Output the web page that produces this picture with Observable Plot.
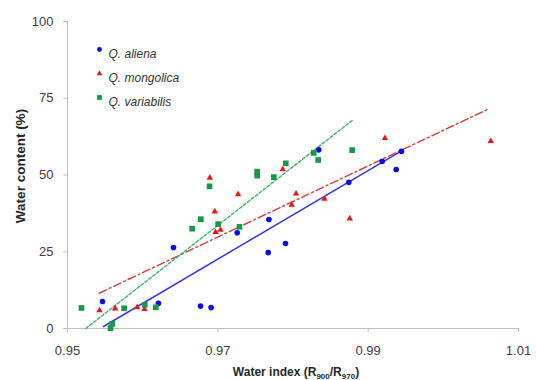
<!DOCTYPE html>
<html>
<head>
<meta charset="utf-8">
<script src="https://cdn.jsdelivr.net/npm/d3@7"></script>
<script src="https://cdn.jsdelivr.net/npm/@observablehq/plot@0.6"></script>
<style>
  html, body { margin: 0; padding: 0; background: #fff; }
  #chart { width: 537px; height: 380px; }
  g[aria-label="x-axis tick"], g[aria-label="y-axis tick"] { stroke: #bfbfbf; }
</style>
</head>
<body>
<div id="chart"></div>
<script>
// ---- Data ----
const alienaX = [0.95466, 0.9621, 0.9641, 0.9677, 0.9691, 0.97258, 0.9768, 0.9767, 0.9790, 0.98343, 0.98743, 0.99187, 0.99443, 0.99373];
const alienaY = [8.8, 8.2, 26.4, 7.3, 6.8, 31.2, 35.5, 24.7, 27.7, 58.2, 47.6, 54.5, 57.7, 51.8];

const mongolicaX = [0.95426, 0.95634, 0.95927, 0.96024, 0.96893, 0.9696, 0.9697, 0.97035, 0.9727, 0.97864, 0.98041, 0.97983, 0.98419, 0.98756, 0.99223, 1.00631];
const mongolicaY = [5.9, 6.5, 6.9, 6.3, 49.1, 38.1, 31.4, 32.1, 43.7, 51.8, 43.9, 40.3, 42.2, 35.8, 62.0, 61.0];

const variabilisX = [0.95186, 0.95572, 0.95594, 0.95754, 0.96028, 0.96175, 0.96658, 0.96774, 0.96889, 0.97005, 0.97288, 0.97523, 0.97523, 0.97745, 0.97904, 0.98277, 0.98335, 0.98787];
const variabilisY = [6.7, 0.1, 1.5, 6.6, 7.7, 6.9, 32.5, 35.6, 46.3, 34.0, 33.1, 51.1, 49.8, 49.3, 53.8, 57.2, 54.9, 58.1];

// fitted trend lines (end points)
const alienaFitX = [0.95479, 0.99439];
const alienaFitY = [0.65, 57.8];
const mongolicaFitX = [0.95422, 1.00600];
const mongolicaFitY = [11.5, 71.5];
const variabilisFitX = [0.95243, 0.98805];
const variabilisFitY = [0.0, 68.1];

const xTicks = [0.95, 0.97, 0.99, 1.01];
const yTicks = [0, 25, 50, 75, 100];

const species = ["Q. aliena", "Q. mongolica", "Q. variabilis"];
const colors = ["#0a0ae6", "#e81818", "#169a48"];
const symbols = ["circle", "triangle", "square"];

// ---- Build tables ----
const toRows = (xs, ys) => xs.map((x, i) => ({x, y: ys[i]}));
const alienaPts = toRows(alienaX, alienaY);
const mongolicaPts = toRows(mongolicaX, mongolicaY);
const variabilisPts = toRows(variabilisX, variabilisY);
const alienaFit = toRows(alienaFitX, alienaFitY);
const mongolicaFit = toRows(mongolicaFitX, mongolicaFitY);
const variabilisFit = toRows(variabilisFitX, variabilisFitY);

const font = "'Liberation Sans', Arial, sans-serif";

const legendMarks = species.flatMap((s, i) => [
  Plot.dot([s], {frameAnchor: "top-left", dx: 32, dy: 28 + i * 24, symbol: symbols[i], fill: colors[i], r: i === 0 ? 2.4 : (i === 1 ? 2.1 : 2.7)}),
  Plot.text([s], {frameAnchor: "top-left", dx: 41, dy: 28 + i * 24, text: d => d, textAnchor: "start", fill: "#333", fontSize: 12, fontStyle: "italic"})
]);

const chart = Plot.plot({
  width: 537,
  height: 380,
  marginLeft: 67,
  marginRight: 19,
  marginTop: 21,
  marginBottom: 52,
  style: {fontFamily: font, fontSize: "13px", color: "#404040", background: "#fff"},
  x: {domain: [0.95, 1.01]},
  y: {domain: [0, 100]},
  marks: [
    Plot.axisX({ticks: xTicks, tickFormat: d => d.toFixed(2), tickSize: 4, tickPadding: 13, label: null, fontSize: 13}),
    Plot.axisY({ticks: yTicks, tickFormat: d => String(d), tickSize: 4, tickPadding: 10, label: null, fontSize: 13}),
    Plot.ruleX([0.95], {stroke: "#bfbfbf"}),
    Plot.ruleY([0], {stroke: "#bfbfbf"}),
    Plot.line(alienaFit, {x: "x", y: "y", stroke: "#3535dc", strokeWidth: 1.5}),
    Plot.line(mongolicaFit, {x: "x", y: "y", stroke: "#d23c3c", strokeWidth: 1.4, strokeDasharray: "8,3,2,3"}),
    Plot.line(variabilisFit, {x: "x", y: "y", stroke: "#3cb46e", strokeWidth: 1.4, strokeDasharray: "3,2"}),
    Plot.dot(alienaPts, {x: "x", y: "y", symbol: "circle", fill: colors[0], r: 2.8}),
    Plot.dot(mongolicaPts, {x: "x", y: "y", symbol: "triangle", fill: colors[1], r: 2.4}),
    Plot.dot(variabilisPts, {x: "x", y: "y", symbol: "square", fill: colors[2], r: 3.2}),
    ...legendMarks
  ]
});

const svg = d3.select(chart);
// x-axis label with subscripts
const xl = svg.append("text")
  .attr("x", 296).attr("y", 376)
  .attr("text-anchor", "middle")
  .attr("font-family", font).attr("font-size", 12).attr("font-weight", "bold")
  .attr("fill", "#262626");
xl.append("tspan").text("Water index (R");
xl.append("tspan").attr("font-size", 8).attr("dy", 3).text("900");
xl.append("tspan").attr("dy", -3).text("/R");
xl.append("tspan").attr("font-size", 8).attr("dy", 3).text("970");
xl.append("tspan").attr("dy", -3).text(")");
// y-axis label
svg.append("text")
  .attr("transform", "translate(25,166) rotate(-90)")
  .attr("text-anchor", "middle")
  .attr("font-family", font).attr("font-size", 13.5).attr("font-weight", "bold")
  .attr("fill", "#262626")
  .text("Water content (%)");

document.getElementById("chart").appendChild(chart);
</script>
</body>
</html>
